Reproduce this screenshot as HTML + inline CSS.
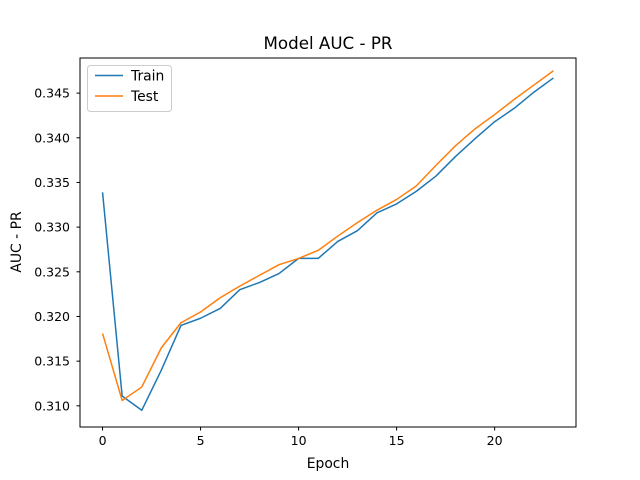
<!DOCTYPE html>
<html><head><meta charset="utf-8"><style>
body{margin:0;background:#fff}
svg{display:block;font-family:"DejaVu Sans","Liberation Sans",sans-serif}
</style></head><body>
<svg id="chart" width="640" height="480">
<rect width="640" height="480" fill="#fff"/>
<text x="328" y="49" font-size="16.7" text-anchor="middle">Model AUC - PR</text>
<g id="plot"></g>
<rect x="80" y="58" width="496" height="369" fill="none" stroke="#000" stroke-width="1"/>
<text x="328" y="468" font-size="13.9" text-anchor="middle">Epoch</text>
<text transform="translate(21,242) rotate(-90)" font-size="13.9" text-anchor="middle">AUC - PR</text>
<g>
<rect x="87.5" y="65.5" width="84" height="46" rx="3" fill="#fff" fill-opacity="0.8" stroke="#ccc"/>
<line x1="95" y1="75.5" x2="123" y2="75.5" stroke="#1f77b4" stroke-width="1.5"/>
<text x="131" y="80.5" font-size="13.9">Train</text>
<line x1="95" y1="96" x2="123" y2="96" stroke="#ff7f0e" stroke-width="1.5"/>
<text x="131" y="101" font-size="13.9">Test</text>
</g>
</svg>
<script>
const epochs=[0,1,2,3,4,5,6,7,8,9,10,11,12,13,14,15,16,17,18,19,20,21,22,23];
const train=[0.3339,0.3111,0.3095,0.3140,0.3190,0.3198,0.3209,0.3230,0.3238,0.3248,0.3265,0.3265,0.3284,0.3296,0.3316,0.3326,0.3340,0.3357,0.3379,0.3399,0.3418,0.3433,0.3451,0.3467];
const test=[0.3181,0.3106,0.3121,0.3165,0.3193,0.3205,0.3221,0.3234,0.3246,0.3258,0.3265,0.3274,0.3290,0.3305,0.3319,0.3331,0.3346,0.3369,0.3391,0.3410,0.3426,0.3443,0.3459,0.3475];
const xTicks=[0,5,10,15,20];
const yTicks=[0.310,0.315,0.320,0.325,0.330,0.335,0.340,0.345];
const NS="http://www.w3.org/2000/svg";
const X0=80,X1=576,Y0=427,Y1=58;
const xmin=-1.15,xmax=24.15,ymin=0.30763,ymax=0.34893;
const sx=v=>X0+(v-xmin)/(xmax-xmin)*(X1-X0);
const sy=v=>Y0-(v-ymin)/(ymax-ymin)*(Y0-Y1);
const g=document.getElementById('plot');
function mk(t,a){const e=document.createElementNS(NS,t);for(const k in a)e.setAttribute(k,a[k]);g.appendChild(e);return e;}
xTicks.forEach(t=>{
const l=mk('line',{x1:sx(t),x2:sx(t),y1:Y0,y2:Y0+3.5,stroke:'#000'});


const tx=mk('text',{x:sx(t),y:Y0+18,'font-size':12.5,'text-anchor':'middle'});tx.textContent=t;


});
yTicks.forEach(t=>{
const l=mk('line',{x1:X0-3.5,x2:X0,y1:sy(t),y2:sy(t),stroke:'#000'});


const tx=mk('text',{x:X0-10,y:sy(t)+4.5,'font-size':12.5,'text-anchor':'end'});tx.textContent=t.toFixed(3);


});
function line(vals,color,name){
const p=mk('polyline',{points:vals.map((v,i)=>sx(epochs[i])+','+sy(v)).join(' '),fill:'none',stroke:color,'stroke-width':1.5,'stroke-linejoin':'round'});


}
line(train,'#1f77b4','train-line');
line(test,'#ff7f0e','test-line');
</script>
</body></html>
